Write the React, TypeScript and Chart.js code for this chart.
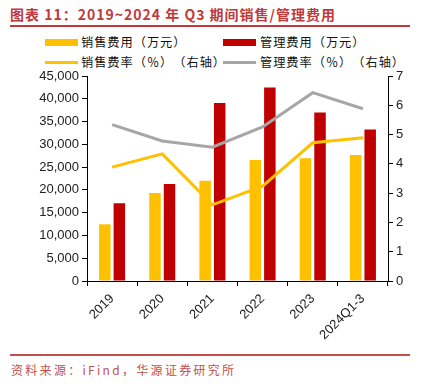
import React, { useEffect, useRef } from "react";
import { Chart, registerables } from "chart.js";

Chart.register(...registerables);

const categories = ["2019", "2020", "2021", "2022", "2023", "2024Q1-3"];
const salesExpense = [12450, 19300, 22000, 26550, 26950, 27650];
const adminExpense = [17050, 21300, 39050, 42500, 37000, 33250];
const salesRate = [3.89, 4.34, 2.6, 3.24, 4.72, 4.89];
const adminRate = [5.34, 4.78, 4.57, 5.26, 6.43, 5.88];
const leftTicks = [0, 5000, 10000, 15000, 20000, 25000, 30000, 35000, 40000, 45000];
const rightTicks = [0, 1, 2, 3, 4, 5, 6, 7];

const YELLOW = "#FFC000";
const RED = "#C00000";
const GRAY = "#A6A6A6";
const TITLE_RED = "#C0393B";
const CJK = '"Noto Sans CJK SC", "Liberation Sans", sans-serif';
const TICK_FONT = '"Liberation Sans", Arial, sans-serif';

export default function App() {
  const ref = useRef<HTMLCanvasElement | null>(null);

  useEffect(() => {
    document.body.style.margin = "0";
    const canvas = ref.current;
    if (!canvas) return;
    const chart = new Chart(canvas, {
      type: "bar",
      data: {
        labels: categories,
        datasets: [
          {
            type: "line",
            label: "销售费率（％）（右轴）",
            data: salesRate,
            yAxisID: "y1",
            borderColor: YELLOW,
            borderWidth: 3,
            pointRadius: 0,
            tension: 0,
            order: 0,
          },
          {
            type: "line",
            label: "管理费率（％）（右轴）",
            data: adminRate,
            yAxisID: "y1",
            borderColor: GRAY,
            borderWidth: 3,
            pointRadius: 0,
            tension: 0,
            order: 0,
          },
          {
            type: "bar",
            label: "销售费用（万元）",
            data: salesExpense,
            yAxisID: "y",
            backgroundColor: YELLOW,
            categoryPercentage: 0.58,
            barPercentage: 0.79,
            order: 1,
          },
          {
            type: "bar",
            label: "管理费用（万元）",
            data: adminExpense,
            yAxisID: "y",
            backgroundColor: RED,
            categoryPercentage: 0.58,
            barPercentage: 0.79,
            order: 1,
          },
        ],
      },
      options: {
        animation: false,
        responsive: false,
        maintainAspectRatio: false,
        layout: { padding: { top: 16, bottom: 0, left: 0, right: 0 } },
        plugins: { legend: { display: false }, tooltip: { enabled: false } },
        scales: {
          x: {
            offset: true,
            grid: {
              display: true,
              drawOnChartArea: false,
              drawTicks: true,
              tickLength: 5,
              color: "#000",
              offset: true,
            },
            border: { display: true, color: "#000", width: 1 },
            ticks: {
              color: "#222",
              font: { family: TICK_FONT, size: 13 },
              minRotation: 45,
              maxRotation: 45,
              padding: 5,
            },
            afterFit: (s: any) => {
              s.height = 69;
            },
          },
          y: {
            position: "left",
            min: 0,
            max: 45000,
            afterBuildTicks: (s: any) => {
              s.ticks = leftTicks.map((v) => ({ value: v }));
            },
            grid: {
              display: true,
              drawOnChartArea: false,
              tickLength: 5,
              color: "#000",
            },
            border: { display: true, color: "#000", width: 1 },
            ticks: {
              color: "#222",
              font: { family: TICK_FONT, size: 13 },
              padding: 3,
              callback: (v: any) => Number(v).toLocaleString("en-US"),
            },
            afterFit: (s: any) => {
              s.width = 87;
            },
          },
          y1: {
            position: "right",
            min: 0,
            max: 7,
            afterBuildTicks: (s: any) => {
              s.ticks = rightTicks.map((v) => ({ value: v }));
            },
            grid: {
              display: true,
              drawOnChartArea: false,
              tickLength: 5,
              color: "#000",
            },
            border: { display: true, color: "#000", width: 1 },
            ticks: {
              color: "#222",
              font: { family: TICK_FONT, size: 13 },
              padding: 3,
            },
            afterFit: (s: any) => {
              s.width = 37;
            },
          },
        },
      },
    });
    return () => chart.destroy();
  }, []);

  const legendText: React.CSSProperties = {
    position: "absolute",
    fontFamily: CJK,
    fontSize: 12.2,
    letterSpacing: 1,
    color: "#111",
    whiteSpace: "nowrap",
    lineHeight: "14px",
    fontKerning: "none",
    fontFeatureSettings: '"chws" 0, "halt" 0, "palt" 0',
    ["textSpacingTrim" as any]: "space-all",
  };

  const box = (x: number, y: number, color: string, h: number) => (
    <div
      style={{
        position: "absolute",
        left: x,
        top: y - h / 2,
        width: 33,
        height: h,
        background: color,
      }}
    />
  );

  return (
    <div
      style={{
        position: "relative",
        width: 425,
        height: 387,
        background: "#fff",
        overflow: "hidden",
      }}
    >
      <div
        style={{
          position: "absolute",
          left: 10,
          top: 5,
          fontFamily: CJK,
          fontSize: 14,
          fontWeight: "bold",
          letterSpacing: 1,
          color: TITLE_RED,
          whiteSpace: "nowrap",
          lineHeight: "18px",
          fontFeatureSettings: '"chws" 0, "halt" 0',
          ["textSpacingTrim" as any]: "space-all",
        }}
      >
        图表 11：2019~2024 年 Q3 期间销售/管理费用
      </div>
      <div
        style={{
          position: "absolute",
          left: 10,
          top: 25,
          width: 400,
          height: 2,
          background: TITLE_RED,
        }}
      />
      {box(45, 42.5, YELLOW, 7)}
      <div style={{ ...legendText, left: 81, top: 35 }}>销售费用（万元）</div>
      {box(223, 42.5, RED, 7)}
      <div style={{ ...legendText, left: 260, top: 35 }}>管理费用（万元）</div>
      {box(45, 62.5, YELLOW, 3)}
      <div style={{ ...legendText, left: 81, top: 55 }}>销售费率（％）（右轴）</div>
      {box(223, 62.5, GRAY, 3)}
      <div style={{ ...legendText, left: 260, top: 55 }}>管理费率（％）（右轴）</div>
      <canvas
        ref={ref}
        width={425}
        height={290}
        style={{ position: "absolute", left: 0, top: 60, width: 425, height: 290 }}
      />
      <div
        style={{
          position: "absolute",
          left: 10,
          top: 354,
          width: 400,
          height: 2,
          background: "#C0504D",
        }}
      />
      <div
        style={{
          position: "absolute",
          left: 11,
          top: 362,
          fontFamily: CJK,
          fontSize: 12,
          letterSpacing: 2.3,
          color: "#C0504D",
          whiteSpace: "nowrap",
          lineHeight: "16px",
          fontFeatureSettings: '"chws" 0, "halt" 0',
          ["textSpacingTrim" as any]: "space-all",
        }}
      >
        资料来源：iFind，华源证券研究所
      </div>
    </div>
  );
}
